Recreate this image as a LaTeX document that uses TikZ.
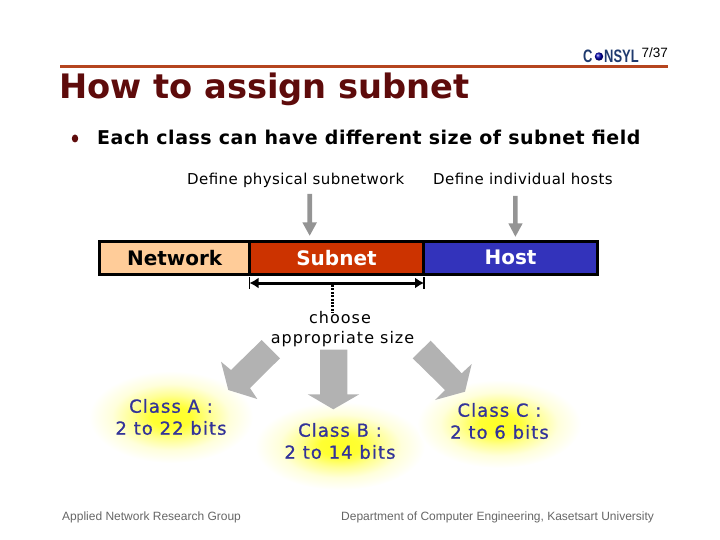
\documentclass[tikz,border=0pt]{standalone}
\usepackage{fontspec}
\setmainfont{DejaVu Sans}
\newfontfamily\arialf{Liberation Sans}
\newfontfamily\capf[LetterSpace=2.8]{DejaVu Sans}
\newfontfamily\choosef[LetterSpace=6.3]{DejaVu Sans}
\newfontfamily\leadf[LetterSpace=2.7]{DejaVu Sans}
\newfontfamily\classf[LetterSpace=6,FakeBold=0.8]{DejaVu Sans}
\usetikzlibrary{arrows.meta,shadings}
\definecolor{titlered}{HTML}{5E0B0B}
\definecolor{rulered}{HTML}{B5451F}
\definecolor{netfill}{HTML}{FFCC99}
\definecolor{subfill}{HTML}{CC3300}
\definecolor{hostfill}{HTML}{3333BB}
\definecolor{classblue}{HTML}{333399}
\definecolor{arrowgray}{HTML}{B2B2B2}
\definecolor{logoblue}{HTML}{1F3A6E}
\pgfdeclareradialshading{glowyellow}{\pgfpointorigin}{
 color(0bp)=(yellow!85!white); color(6bp)=(yellow!80!white); color(12bp)=(yellow!42!white); color(18bp)=(yellow!14!white); color(25bp)=(white); color(50bp)=(white)}
\tikzset{
 barcell/.style={draw=black,line width=3pt,minimum height=32.7pt,inner sep=0pt,anchor=north west,font=\fontsize{20}{22}\selectfont\bfseries},
 caption/.style={inner sep=0pt,font=\capf\fontsize{15}{17}\selectfont},
 classlabel/.style={inner sep=0pt,align=center,text=classblue,font=\classf\fontsize{18}{22}\selectfont},
 footer/.style={inner sep=0pt,text=black!60,font=\arialf\fontsize{12}{14}\selectfont},
 bigarrow/.style={fill=arrowgray,draw=none},
 smallarrow/.style={fill=black!42,draw=none},
 logotext/.style={inner sep=0pt,anchor=base west,text=logoblue,xscale=.72,font=\arialf\fontsize{18}{19}\selectfont\bfseries},
}
\begin{document}
\begin{tikzpicture}[x=1pt,y=-1pt]
\useasboundingbox (0,0) rectangle (720,540);
% header
\coordinate (ruleL) at (60,66.5);
\coordinate (ruleR) at (668,66.5);
\draw[rulered,line width=2.4pt] (ruleL) -- (ruleR);
\node[inner sep=0pt,anchor=base west,text=titlered,font=\fontsize{33.7}{36}\selectfont\bfseries] (title) at (59,99) {How to assign subnet};
\node[inner sep=0pt,anchor=base east,font=\arialf\fontsize{13.5}{15}\selectfont] (page) at (668,58) {7/37};
\node[logotext] (logoC) at (583,62.5) {C};
\shade[ball color=blue!70!black] (599,56.5) circle (4.2pt);
\node[logotext] (logoR) at (604,62.5) {NSYL};
% bullet line
\fill[titlered] (75,138.5) ellipse (3.2pt and 4pt);
\node[inner sep=0pt,anchor=base west,font=\leadf\fontsize{19}{21}\selectfont\bfseries] (lead) at (97,144.5) {Each class can have different size of subnet field};
% captions
\node[caption,anchor=base west] (cap1) at (187,185) {Define physical subnetwork};
\node[caption,anchor=base west] (cap2) at (433,185) {Define individual hosts};
% small arrows
\fill[smallarrow] (307.3,194) -- (312,194) -- (312,222.3) -- (317,222.3) -- (309.7,235.7) -- (302.3,222.3) -- (307.3,222.3) -- cycle;
\fill[smallarrow] (513,196) -- (517.7,196) -- (517.7,223.3) -- (522.7,223.3) -- (515.4,236.7) -- (508.3,223.3) -- (513,223.3) -- cycle;
% bar
\node[barcell,fill=netfill,minimum width=149.7pt] (net) at (98.3,240) {Network};
\node[barcell,fill=subfill,text=white,minimum width=174pt] (sub) at (248,240) {Subnet};
\node[barcell,fill=hostfill,text=white,minimum width=174pt] (host) at (422,240) {Host};
% dimension
\coordinate (dimL) at (249.5,283);
\coordinate (dimR) at (424,283);
\coordinate (dimMid) at (332.7,285);
\coordinate (dotEnd) at (332.7,313);
\draw[line width=3pt,{Latex[length=9pt,width=11pt]}-{Latex[length=9pt,width=11pt]}] (dimL) -- (dimR);
\draw[line width=1.3pt] (249.5,277) -- (249.5,289);
\draw[line width=1.3pt] (424,277) -- (424,289);
\draw[line width=3pt,dash pattern=on 2pt off 1.4pt] (dimMid) -- (dotEnd);
% glows
\shade[shading=glowyellow] (171,417) ellipse (82pt and 46pt);
\shade[shading=glowyellow] (340,446) ellipse (85pt and 44pt);
\shade[shading=glowyellow] (499,424) ellipse (82pt and 44pt);
% big arrows
\fill[bigarrow] (261.7,340) -- (280,358.3) -- (250,388) -- (257.3,399) -- (228.3,390) -- (221,361.7) -- (231,370) -- cycle;
\fill[bigarrow] (320,349.7) -- (347.3,349.7) -- (347.3,394.3) -- (359.3,394.3) -- (333.3,409.3) -- (307.7,394.3) -- (320,394.3) -- cycle;
\fill[bigarrow] (430.7,340.7) -- (412.7,358.3) -- (445,390) -- (435,400) -- (465,391.7) -- (471.7,364) -- (461.7,373.3) -- cycle;
% choose label
\node[inner sep=0pt,align=center,font=\choosef\fontsize{16}{20}\selectfont] (choose) at (342.5,329) {\hspace*{-5pt}choose\\appropriate size};
\node[classlabel] (classA) at (171,417) {Class A :\\2 to 22 bits};
\node[classlabel] (classB) at (340,441) {Class B :\\2 to 14 bits};
\node[classlabel] (classC) at (499.5,421) {Class C :\\2 to 6 bits};
% footer
\node[footer,anchor=base west] (footL) at (62,520) {Applied Network Research Group};
\node[footer,anchor=base west] (footR) at (341,520) {Department of Computer Engineering, Kasetsart University};
\end{tikzpicture}
\end{document}
